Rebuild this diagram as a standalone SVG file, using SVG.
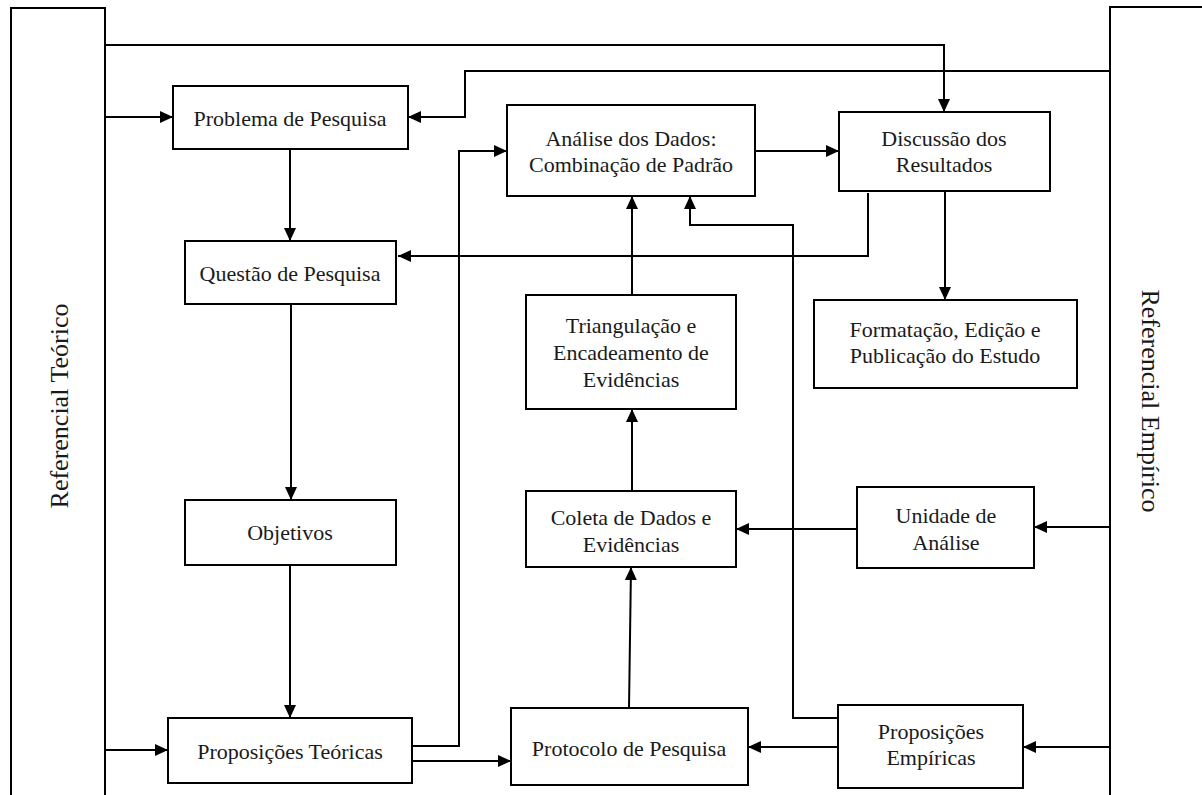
<svg xmlns="http://www.w3.org/2000/svg" width="1202" height="795" viewBox="0 0 1202 795">
  <style>
    .box { fill: #ffffff; stroke: #000000; stroke-width: 2; }
    .wire { fill: none; stroke: #000000; stroke-width: 2; }
    .arrow { marker-end: url(#head); }
    text { font-family: "Liberation Serif", "Times New Roman", serif; font-size: 22px; fill: #1a1a1a; text-anchor: middle; }
    .side { font-size: 26px; }
  </style>
  <defs>
    <marker id="head" markerUnits="userSpaceOnUse" markerWidth="13" markerHeight="13" viewBox="0 0 13 13" refX="13" refY="6.5" orient="auto">
      <path d="M0,0.5 L13,6.5 L0,12.5 Z" fill="#000000"/>
    </marker>
  </defs>
  <rect width="1202" height="795" fill="#ffffff"/>

  <!-- side frames -->
  <g id="referencial-teorico">
    <rect class="box" x="11" y="8" width="94" height="800"/>
    <text class="side" transform="translate(68,406) rotate(-90)">Referencial  Teórico</text>
  </g>
  <g id="referencial-empirico">
    <rect class="box" x="1110" y="7" width="110" height="800"/>
    <text class="side" transform="translate(1142,401) rotate(90)">Referencial  Empírico</text>
  </g>

  <!-- connectors -->
  <g id="connectors">
    <path class="wire arrow" d="M105,117 H173"/>
    <path class="wire arrow" d="M105,45 H944 V112"/>
    <path class="wire arrow" d="M1110,71 H465 V117 H408"/>
    <path class="wire arrow" d="M290,149 V241"/>
    <path class="wire arrow" d="M291,304 V500"/>
    <path class="wire arrow" d="M290,565 V718"/>
    <path class="wire arrow" d="M105,750 H168"/>
    <path class="wire arrow" d="M412,746 H459 V151 H507"/>
    <path class="wire arrow" d="M412,761 H511"/>
    <path class="wire arrow" d="M838,747 H748"/>
    <path class="wire arrow" d="M1110,747 H1023"/>
    <path class="wire arrow" d="M1110,527 H1034"/>
    <path class="wire arrow" d="M857,529 H736"/>
    <path class="wire arrow" d="M629,708 L631,567"/>
    <path class="wire arrow" d="M632,491 V409"/>
    <path class="wire arrow" d="M632,295 V196"/>
    <path class="wire arrow" d="M838,718 H793 V225 H690 V196"/>
    <path class="wire arrow" d="M755,151 H839"/>
    <path class="wire arrow" d="M868,193 V256 H398"/>
    <path class="wire arrow" d="M945,191 V300"/>
  </g>

  <!-- nodes -->
  <g id="problema">
    <rect class="box" x="173" y="86" width="235" height="63"/>
    <text x="290" y="126">Problema de Pesquisa</text>
  </g>
  <g id="questao">
    <rect class="box" x="185" y="241" width="211" height="63"/>
    <text x="290" y="281">Questão de Pesquisa</text>
  </g>
  <g id="objetivos">
    <rect class="box" x="185" y="500" width="211" height="65"/>
    <text x="290" y="540">Objetivos</text>
  </g>
  <g id="proposicoes-teoricas">
    <rect class="box" x="168" y="718" width="244" height="65"/>
    <text x="290" y="759">Proposições Teóricas</text>
  </g>
  <g id="analise">
    <rect class="box" x="507" y="105" width="248" height="91"/>
    <text x="631" y="146">Análise dos Dados:</text>
    <text x="631" y="172">Combinação de Padrão</text>
  </g>
  <g id="discussao">
    <rect class="box" x="839" y="112" width="211" height="79"/>
    <text x="944" y="146">Discussão dos</text>
    <text x="944" y="172">Resultados</text>
  </g>
  <g id="formatacao">
    <rect class="box" x="814" y="300" width="263" height="88"/>
    <text x="945" y="337">Formatação, Edição e</text>
    <text x="945" y="363">Publicação do Estudo</text>
  </g>
  <g id="triangulacao">
    <rect class="box" x="526" y="295" width="210" height="114"/>
    <text x="631" y="333">Triangulação e</text>
    <text x="631" y="360">Encadeamento de</text>
    <text x="631" y="387">Evidências</text>
  </g>
  <g id="coleta">
    <rect class="box" x="526" y="491" width="210" height="76"/>
    <text x="631" y="525">Coleta de Dados e</text>
    <text x="631" y="552">Evidências</text>
  </g>
  <g id="unidade">
    <rect class="box" x="857" y="487" width="177" height="81"/>
    <text x="946" y="523">Unidade de</text>
    <text x="946" y="550">Análise</text>
  </g>
  <g id="protocolo">
    <rect class="box" x="511" y="708" width="237" height="77"/>
    <text x="629" y="756">Protocolo de Pesquisa</text>
  </g>
  <g id="proposicoes-empiricas">
    <rect class="box" x="838" y="705" width="185" height="83"/>
    <text x="931" y="739">Proposições</text>
    <text x="931" y="765">Empíricas</text>
  </g>
</svg>
